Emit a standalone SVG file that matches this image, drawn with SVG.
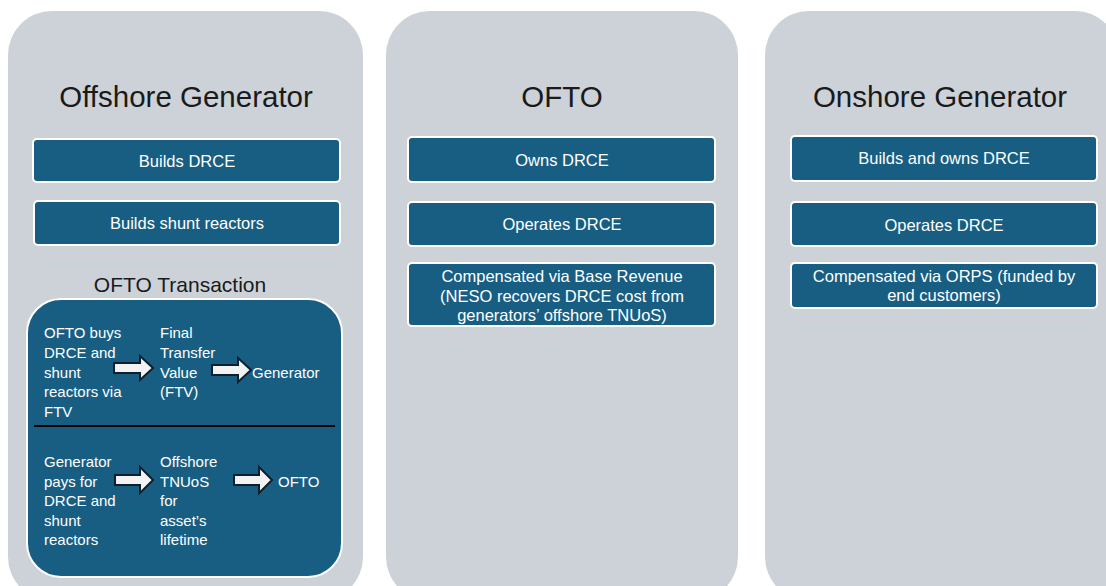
<svg xmlns="http://www.w3.org/2000/svg" width="1106" height="586" viewBox="0 0 1106 586">
<defs>
<style>
.panel{fill:#cdd2d9}
.box{fill:#175e82;stroke:#ffffff;stroke-width:2}
.title{font-family:"Liberation Sans",Arial,sans-serif;font-size:29.5px;fill:#1a1a1a;text-anchor:middle}
.sub{font-family:"Liberation Sans",Arial,sans-serif;font-size:21px;fill:#1a1a1a;text-anchor:middle}
.bt{font-family:"Liberation Sans",Arial,sans-serif;font-size:16.5px;fill:#ffffff;text-anchor:middle}
.it{font-family:"Liberation Sans",Arial,sans-serif;font-size:15px;fill:#ffffff}
.arr{fill:#f2f2f2;stroke:#0b1f2c;stroke-width:2;stroke-linejoin:miter}
</style>
</defs>
<rect width="1106" height="586" fill="#ffffff"/>

<g id="panel-offshore">
<rect class="panel" x="8" y="11" width="355" height="590" rx="44"/>
<text class="title" x="186" y="107">Offshore Generator</text>
</g>
<g id="panel-ofto">
<rect class="panel" x="386" y="11" width="352" height="590" rx="44"/>
<text class="title" x="562" y="107">OFTO</text>
</g>
<g id="panel-onshore">
<rect class="panel" x="765" y="11" width="354" height="590" rx="44"/>
<text class="title" x="940" y="107">Onshore Generator</text>
</g>

<g id="off-builds-drce">
<rect class="box" x="33" y="139" width="307" height="43" rx="4"/>
<text class="bt" x="187" y="166.5">Builds DRCE</text>
</g>
<g id="off-builds-shunt">
<rect class="box" x="34" y="201" width="306" height="44" rx="4"/>
<text class="bt" x="187" y="228.5">Builds shunt reactors</text>
</g>

<g id="ofto-transaction">
<text class="sub" x="180" y="292">OFTO Transaction</text>
<rect class="box" x="27" y="299" width="315" height="278" rx="34"/>
<line x1="34" y1="426" x2="335" y2="426" stroke="#000000" stroke-width="2"/>
<text class="it" x="44" y="338">OFTO buys</text>
<text class="it" x="44" y="358">DRCE and</text>
<text class="it" x="44" y="377.5">shunt</text>
<text class="it" x="44" y="397">reactors via</text>
<text class="it" x="44" y="417">FTV</text>
<text class="it" x="160" y="338">Final</text>
<text class="it" x="160" y="358">Transfer</text>
<text class="it" x="160" y="377.5">Value</text>
<text class="it" x="160" y="397">(FTV)</text>
<text class="it" x="252" y="377.5">Generator</text>
<text class="it" x="44" y="467">Generator</text>
<text class="it" x="44" y="486.5">pays for</text>
<text class="it" x="44" y="506">DRCE and</text>
<text class="it" x="44" y="525.5">shunt</text>
<text class="it" x="44" y="545">reactors</text>
<text class="it" x="160" y="467">Offshore</text>
<text class="it" x="160" y="486.5">TNUoS</text>
<text class="it" x="160" y="506">for</text>
<text class="it" x="160" y="525.5">asset’s</text>
<text class="it" x="160" y="545">lifetime</text>
<text class="it" x="278" y="486.5">OFTO</text>
</g>

<g id="connectors">
<path class="arr" d="M114,363 H140 V356 L153,368 L140,380 V373 H114 Z"/>
<path class="arr" d="M212,365 H238 V358 L251,370 L238,382 V375 H212 Z"/>
<path class="arr" d="M115,475 H140 V467 L153,480 L140,493 V485 H115 Z"/>
<path class="arr" d="M234,475 H259 V467 L272,480 L259,493 V485 H234 Z"/>
</g>

<g id="ofto-owns">
<rect class="box" x="408" y="137" width="307" height="45" rx="4"/>
<text class="bt" x="562" y="165.5">Owns DRCE</text>
</g>
<g id="ofto-operates">
<rect class="box" x="408" y="202" width="307" height="44" rx="4"/>
<text class="bt" x="562" y="229.5">Operates DRCE</text>
</g>
<g id="ofto-compensated">
<rect class="box" x="408" y="263" width="307" height="63" rx="4"/>
<text class="bt" x="562" y="281.5">Compensated via Base Revenue</text>
<text class="bt" x="562" y="301.5">(NESO recovers DRCE cost from</text>
<text class="bt" x="562" y="320.5">generators’ offshore TNUoS)</text>
</g>

<g id="on-builds">
<rect class="box" x="791" y="136" width="306" height="45" rx="4"/>
<text class="bt" x="944" y="163.5">Builds and owns DRCE</text>
</g>
<g id="on-operates">
<rect class="box" x="791" y="202" width="306" height="44" rx="4"/>
<text class="bt" x="944" y="230.5">Operates DRCE</text>
</g>
<g id="on-compensated">
<rect class="box" x="791" y="263" width="306" height="45" rx="4"/>
<text class="bt" x="944" y="281.5">Compensated via ORPS (funded by</text>
<text class="bt" x="944" y="300.5">end customers)</text>
</g>
</svg>
